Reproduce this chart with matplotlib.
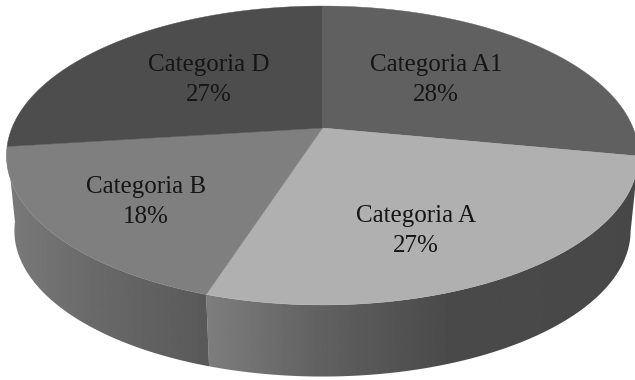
import numpy as np
import matplotlib
matplotlib.use("Agg")
import matplotlib.pyplot as plt
from matplotlib.patches import Polygon

# Chart data
categories = ["Categoria A1", "Categoria A", "Categoria B", "Categoria D"]
shares = [28, 27, 18, 27]

# Styling
top_colors = ["#606060", "#b0b0b0", "#7f7f7f", "#4d4d4d"]
label_xy = [(436, 80), (416, 231), (146, 202), (209, 80)]
text_color = "#151515"

# Perspective disc: pixel centre, axes and tilt
CX, CY = 322.5, 128.0
A, B, K = 310.6, 144.4, 0.184
DEPTH, SHRINK = 76.0, 0.975

# Grey stops (x pixel, level) for the outer wall of each front slice
wall_stops = {
    1: ([210, 320, 450, 640], [0.49, 0.38, 0.29, 0.28]),
    2: ([5, 100, 208], [0.48, 0.41, 0.35]),
}


def top_edge(theta):
    """Project a clockwise-from-north angle onto the upper rim."""
    u, v = np.sin(theta), np.cos(theta)
    w = 1 + K * v
    return CX + A * u / w, CY - B * v / w


def bottom_edge(theta):
    """Matching point on the lower rim of the disc."""
    x, y = top_edge(theta)
    return CX + SHRINK * (x - CX), CY + DEPTH + SHRINK * (y - CY)


fig = plt.figure(figsize=(6.35, 3.8), dpi=100, facecolor="white")
ax = fig.add_axes([0, 0, 1, 1])

edges = np.radians(np.concatenate([[0], np.cumsum(shares)]) * 3.6)

# Outer wall, shaded by a horizontal gradient clipped to each slice
for i, (xp, fp) in wall_stops.items():
    t = np.linspace(edges[i], edges[i + 1], 300)
    xu, yu = top_edge(t)
    xl, yl = bottom_edge(t)
    outline = np.column_stack([np.r_[xu, xl[::-1]], np.r_[yu, yl[::-1]]])
    xs = np.arange(0, 636)
    shade = np.interp(xs, xp, fp)[None, :]
    img = ax.imshow(shade, cmap="gray", vmin=0, vmax=1, aspect="auto",
                    extent=(0, 635, 380, 0), interpolation="bilinear", zorder=1)
    clip = Polygon(outline, closed=True, transform=ax.transData,
                   facecolor="none", edgecolor="none")
    ax.add_patch(clip)
    img.set_clip_path(clip)

# Upper face
for i, color in enumerate(top_colors):
    t = np.linspace(edges[i], edges[i + 1], 200)
    x, y = top_edge(t)
    ax.fill(np.r_[CX, x], np.r_[CY, y], color=color, lw=0.3, zorder=2)

# Slice labels
for name, share, (lx, ly) in zip(categories, shares, label_xy):
    ax.text(lx, ly, f"{name}\n{share}%", ha="center", va="center",
            family="Liberation Serif", fontsize=18, color=text_color,
            linespacing=1.42, zorder=3)

ax.set_xlim(0, 635)
ax.set_ylim(380, 0)
ax.axis("off")

fig.savefig("out.png", dpi=100, facecolor="white")
